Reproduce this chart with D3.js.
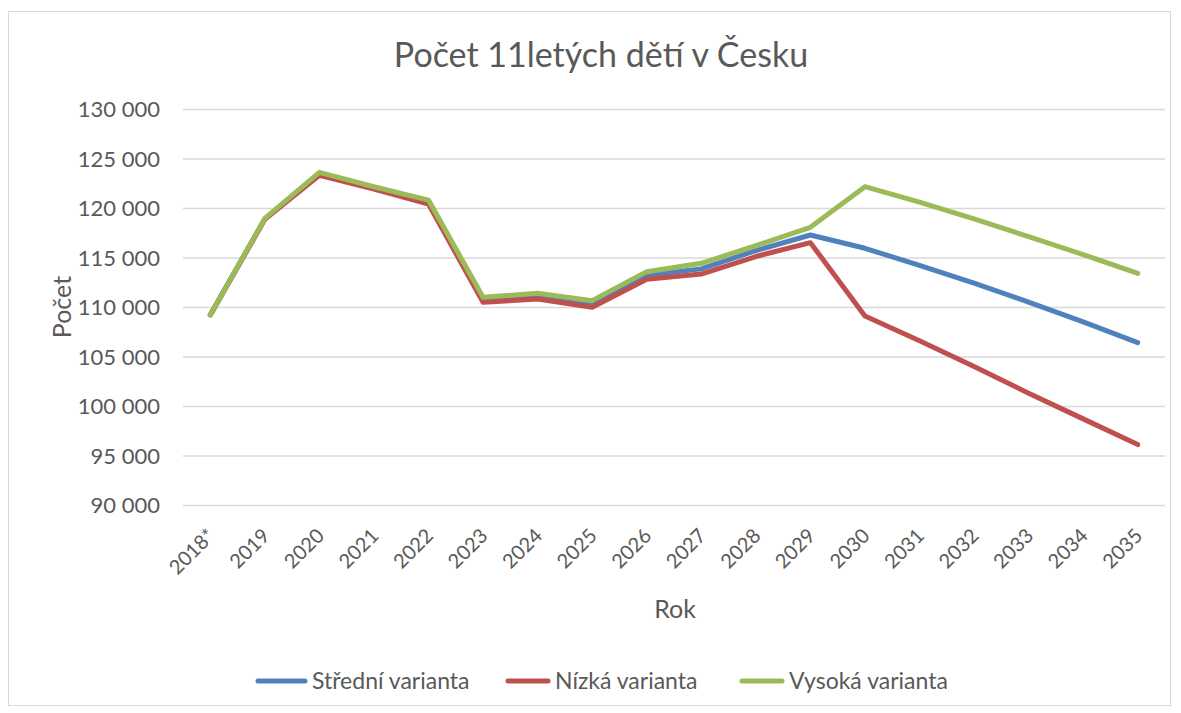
<!DOCTYPE html>
<html><head><meta charset="utf-8">
<script src="https://cdn.jsdelivr.net/npm/d3@7"></script>
<style>body{margin:0;background:#fff;} svg{display:block;}</style>
</head><body>
<svg id="c" width="1181" height="713"></svg>
<script>
const years = ["2018*","2019","2020","2021","2022","2023","2024","2025","2026","2027","2028","2029","2030","2031","2032","2033","2034","2035"];
const stredni = [109200,118900,123450,122050,120650,110700,111100,110300,113200,113850,115700,117270,115930,114200,112400,110500,108500,106400];
const nizka   = [109200,118850,123300,121900,120400,110470,110800,109970,112800,113330,115100,116500,109090,106600,104000,101300,98700,96100];
const vysoka  = [109200,118950,123600,122150,120800,110980,111380,110640,113570,114410,116200,118050,122150,120600,118900,117100,115300,113400];
const yTicks = [90000,95000,100000,105000,110000,115000,120000,125000,130000];
const seriesNames = ["Střední varianta","Nízká varianta","Vysoká varianta"];
const colors = ["#4f81bd","#c0504d","#9bbb59"];

const svg = d3.select("#c");
const font = "Lato, sans-serif";
svg.append("rect").attr("x",8.5).attr("y",11.5).attr("width",1162).attr("height",694)
  .attr("fill","#fff").attr("stroke","#d9d9d9");

const x = d3.scalePoint().domain(years).range([183,1165]).padding(0.5);
const y = d3.scaleLinear().domain([90000,130000]).range([505,109]);

svg.append("text").attr("x",601).attr("y",67).attr("text-anchor","middle")
  .attr("font-family",font).attr("font-size",34).attr("fill","#595959")
  .text("Počet 11letých dětí v Česku");

const fmt = v => d3.format(",")(v).replace(/,/g," ");
const yAxis = svg.append("g").attr("transform","translate(183,0)")
  .call(d3.axisLeft(y).tickValues(yTicks).tickFormat(fmt).tickSize(-982).tickPadding(23));
yAxis.select(".domain").remove();
yAxis.selectAll("line").attr("stroke","#d9d9d9").attr("stroke-width",1.3);
yAxis.selectAll("text").attr("font-family",font).attr("font-size",22).attr("fill","#595959").attr("dy","0.35em");

const xAxis = svg.append("g").attr("transform","translate(0,0)")
  .call(d3.axisBottom(x).tickSize(0));
xAxis.select(".domain").remove();
xAxis.selectAll(".tick").attr("transform", null);
xAxis.selectAll("text").attr("font-family",font).attr("font-size",20).attr("fill","#595959")
  .attr("text-anchor","end").attr("dy",0).attr("x",0).attr("y",0)
  .attr("transform", d => `translate(${x(d)+6},537) rotate(-45)`);

svg.append("text").attr("x",675).attr("y",618).attr("text-anchor","middle")
  .attr("font-family",font).attr("font-size",25).attr("fill","#595959").text("Rok");
svg.append("text").attr("transform","translate(71,307) rotate(-90)").attr("text-anchor","middle")
  .attr("font-family",font).attr("font-size",25).attr("fill","#595959").text("Počet");

const line = d3.line().x((d,i)=>x(years[i])).y(d=>y(d));
[stredni,nizka,vysoka].forEach((s,k)=>{
  svg.append("path").datum(s).attr("d",line).attr("fill","none")
    .attr("stroke",colors[k]).attr("stroke-width",5).attr("stroke-linejoin","round").attr("stroke-linecap","round");
});

const legX = [258,508,742];
const legW = [47,40,40];
seriesNames.forEach((n,k)=>{
  svg.append("line").attr("x1",legX[k]).attr("x2",legX[k]+legW[k]).attr("y1",681).attr("y2",681)
    .attr("stroke",colors[k]).attr("stroke-width",5).attr("stroke-linecap","round");
  svg.append("text").attr("x",legX[k]+legW[k]+7).attr("y",689).attr("font-family",font)
    .attr("font-size",23).attr("fill","#595959").text(n);
});
</script>
</body></html>
